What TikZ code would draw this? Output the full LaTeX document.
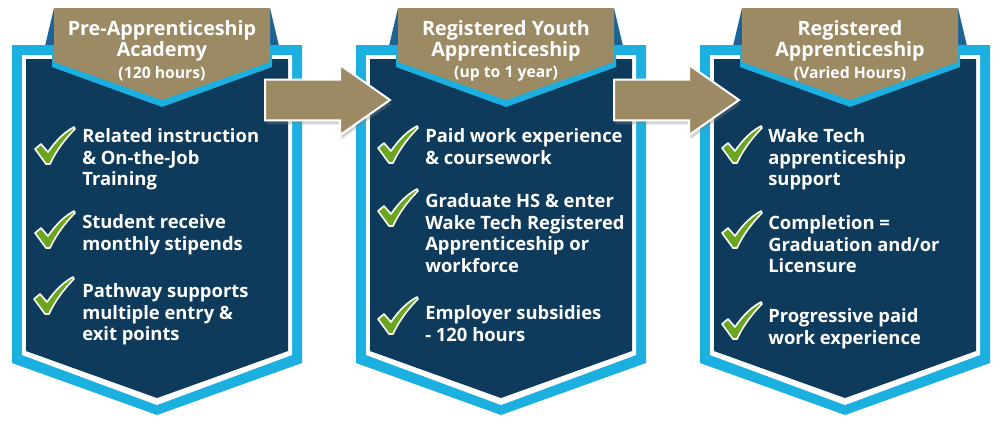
\documentclass[tikz,border=0pt]{standalone}
\usepackage{fontspec}
\setmainfont{Open Sans}
\usetikzlibrary{positioning,shapes.arrows,shadows}

\definecolor{framecyan}{HTML}{1BB0E0}
\definecolor{panelnavy}{HTML}{0E3A5C}
\definecolor{bannergold}{HTML}{9B8A64}
\definecolor{ribbonblue}{HTML}{1D6496}
\definecolor{tickgreen}{HTML}{6BA621}

\tikzset{
  titletext/.style={text=white, font=\fontsize{14.8}{16.3}\selectfont\bfseries, align=center, inner sep=0pt, anchor=north},
  hourstext/.style={text=white, font=\fontsize{11.8}{13}\selectfont\bfseries, inner sep=0pt},
  itemtext/.style={text=white, font=\fontsize{13.8}{16.4}\selectfont\bfseries, align=left, inner sep=0pt, anchor=north west},
  bigarrow/.style={single arrow, fill=bannergold, draw=white, line width=1.5pt,
    minimum height=93.75pt, minimum width=51pt, single arrow head extend=10.9pt,
    single arrow tip angle=70, inner xsep=0pt, inner ysep=14.6pt, anchor=tail,
    drop shadow={opacity=0.35, shadow xshift=1pt, shadow yshift=-3pt}},
  checkmark/.pic={
    \filldraw[fill=tickgreen, draw=white, line width=1.2pt, line join=round]
      (0,22) -- (6,17) -- (13,25) .. controls (22,12) and (30,5) .. (39,0)
      -- (40,2) .. controls (30,12) and (21,24) .. (15,37) -- (11,37) -- cycle;
  }
}

\begin{document}
\begin{tikzpicture}[x=0.75pt, y=-0.75pt]
    \useasboundingbox (0,0) rectangle (1000,440);

    % the three panels, each with its banner on top
    \foreach \cx in {157,501,845}{
        \fill[ribbonblue] (\cx-103,8) -- (\cx-112,46) -- (\cx+122,46) -- (\cx+113,8) -- cycle;
        \fill[framecyan] (\cx-145,45) -- (\cx+145,45) -- (\cx+145,363) -- (\cx,415) -- (\cx-145,363) -- cycle;
        \fill[white] (\cx-135,55) -- (\cx+135,55) -- (\cx+135,355) -- (\cx,405) -- (\cx-135,355) -- cycle;
        \fill[panelnavy] (\cx-131,59) -- (\cx+131,59) -- (\cx+131,351) -- (\cx,398) -- (\cx-131,351) -- cycle;
        \fill[framecyan] (\cx-105,45) -- (\cx+115,45) -- (\cx+115,67) -- (\cx+5,107) -- (\cx-105,67) -- cycle;
        \fill[bannergold] (\cx-103,8) -- (\cx+113,8) -- (\cx+113,62) -- (\cx+5,100) -- (\cx-103,62) -- cycle;
    }

    % arrows between the panels
    \node[bigarrow] (arrowAB) at (264,100) {};
    \node[bigarrow] (arrowBC) at (613,100) {};

    % banner titles
    \node[titletext] (titleA) at (162,20) {Pre-Apprenticeship\\Academy};
    \node[titletext] (titleB) at (506,20) {Registered Youth\\Apprenticeship};
    \node[titletext] (titleC) at (850,20) {Registered\\Apprenticeship};
    \node[hourstext, below=3pt of titleA] (hoursA) {(120 hours)};
    \node[hourstext, below=3pt of titleB] (hoursB) {(up to 1 year)};
    \node[hourstext, below=3pt of titleC] (hoursC) {(Varied Hours)};

    % check marks
    \pic at (35,127) {checkmark};
    \pic at (35,211) {checkmark};
    \pic at (34,277) {checkmark};
    \pic at (378,126) {checkmark};
    \pic at (378,189) {checkmark};
    \pic at (378,297) {checkmark};
    \pic at (722,126) {checkmark};
    \pic at (722,211) {checkmark};
    \pic at (722,302) {checkmark};

    % list items
    \node[itemtext] (itemA1) at (82,128) {Related instruction\\\& On-the-Job\\Training};
    \node[itemtext] (itemA2) at (82,214) {Student receive\\monthly stipends};
    \node[itemtext] (itemA3) at (82,283) {Pathway supports\\multiple entry \&\\exit points};
    \node[itemtext] (itemB1) at (425,128) {Paid work experience\\\& coursework};
    \node[itemtext] (itemB2) at (425,193) {Graduate HS \& enter\\Wake Tech Registered\\Apprenticeship or\\workforce};
    \node[itemtext] (itemB3) at (425,305) {Employer subsidies\\- 120 hours};
    \node[itemtext] (itemC1) at (768,128) {Wake Tech\\apprenticeship\\support};
    \node[itemtext] (itemC2) at (768,215) {Completion =\\Graduation and/or\\Licensure};
    \node[itemtext] (itemC3) at (768,308) {Progressive paid\\work experience};
\end{tikzpicture}
\end{document}
